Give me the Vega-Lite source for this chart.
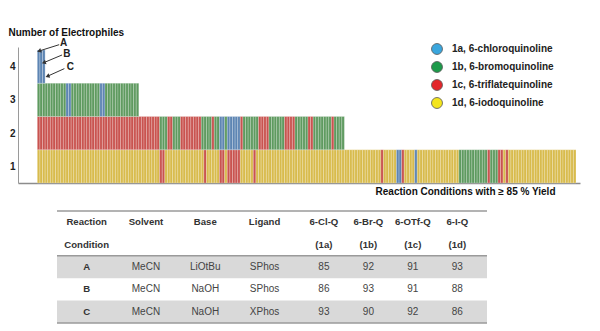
{
  "$schema": "https://vega.github.io/schema/vega-lite/v6.json",
  "padding": {"left": 8, "top": 27, "right": 5, "bottom": 4},
  "spacing": 14,
  "config": {
    "view": {"stroke": null},
    "font": "Liberation Sans"
  },
  "datasets": {
    "stripes": [
      {"cond":0,"level":1,"eph":"1d"},{"cond":1,"level":1,"eph":"1d"},{"cond":2,"level":1,"eph":"1d"},{"cond":3,"level":1,"eph":"1d"},{"cond":4,"level":1,"eph":"1d"},{"cond":5,"level":1,"eph":"1d"},{"cond":6,"level":1,"eph":"1d"},{"cond":7,"level":1,"eph":"1d"},{"cond":8,"level":1,"eph":"1d"},{"cond":9,"level":1,"eph":"1d"},
      {"cond":10,"level":1,"eph":"1d"},{"cond":11,"level":1,"eph":"1d"},{"cond":12,"level":1,"eph":"1d"},{"cond":13,"level":1,"eph":"1d"},{"cond":14,"level":1,"eph":"1d"},{"cond":15,"level":1,"eph":"1d"},{"cond":16,"level":1,"eph":"1d"},{"cond":17,"level":1,"eph":"1d"},{"cond":18,"level":1,"eph":"1d"},{"cond":19,"level":1,"eph":"1d"},
      {"cond":20,"level":1,"eph":"1d"},{"cond":21,"level":1,"eph":"1d"},{"cond":22,"level":1,"eph":"1d"},{"cond":23,"level":1,"eph":"1d"},{"cond":24,"level":1,"eph":"1d"},{"cond":25,"level":1,"eph":"1d"},{"cond":26,"level":1,"eph":"1d"},{"cond":27,"level":1,"eph":"1d"},{"cond":28,"level":1,"eph":"1d"},{"cond":29,"level":1,"eph":"1d"},
      {"cond":30,"level":1,"eph":"1d"},{"cond":31,"level":1,"eph":"1d"},{"cond":32,"level":1,"eph":"1d"},{"cond":33,"level":1,"eph":"1d"},{"cond":34,"level":1,"eph":"1d"},{"cond":35,"level":1,"eph":"1d"},{"cond":36,"level":1,"eph":"1d"},{"cond":37,"level":1,"eph":"1d"},{"cond":38,"level":1,"eph":"1d"},{"cond":39,"level":1,"eph":"1d"},
      {"cond":40,"level":1,"eph":"1d"},{"cond":41,"level":1,"eph":"1d"},{"cond":42,"level":1,"eph":"1d"},{"cond":43,"level":1,"eph":"1d"},{"cond":44,"level":1,"eph":"1d"},{"cond":45,"level":1,"eph":"1d"},{"cond":46,"level":1,"eph":"1d"},{"cond":47,"level":1,"eph":"1c"},{"cond":48,"level":1,"eph":"1c"},{"cond":49,"level":1,"eph":"1d"},
      {"cond":50,"level":1,"eph":"1d"},{"cond":51,"level":1,"eph":"1d"},{"cond":52,"level":1,"eph":"1d"},{"cond":53,"level":1,"eph":"1d"},{"cond":54,"level":1,"eph":"1d"},{"cond":55,"level":1,"eph":"1d"},{"cond":56,"level":1,"eph":"1d"},{"cond":57,"level":1,"eph":"1d"},{"cond":58,"level":1,"eph":"1d"},{"cond":59,"level":1,"eph":"1d"},
      {"cond":60,"level":1,"eph":"1d"},{"cond":61,"level":1,"eph":"1d"},{"cond":62,"level":1,"eph":"1d"},{"cond":63,"level":1,"eph":"1d"},{"cond":64,"level":1,"eph":"1c"},{"cond":65,"level":1,"eph":"1d"},{"cond":66,"level":1,"eph":"1d"},{"cond":67,"level":1,"eph":"1d"},{"cond":68,"level":1,"eph":"1d"},{"cond":69,"level":1,"eph":"1d"},
      {"cond":70,"level":1,"eph":"1c"},{"cond":71,"level":1,"eph":"1c"},{"cond":72,"level":1,"eph":"1d"},{"cond":73,"level":1,"eph":"1c"},{"cond":74,"level":1,"eph":"1c"},{"cond":75,"level":1,"eph":"1c"},{"cond":76,"level":1,"eph":"1c"},{"cond":77,"level":1,"eph":"1c"},{"cond":78,"level":1,"eph":"1d"},{"cond":79,"level":1,"eph":"1d"},
      {"cond":80,"level":1,"eph":"1d"},{"cond":81,"level":1,"eph":"1d"},{"cond":82,"level":1,"eph":"1d"},{"cond":83,"level":1,"eph":"1c"},{"cond":84,"level":1,"eph":"1d"},{"cond":85,"level":1,"eph":"1d"},{"cond":86,"level":1,"eph":"1d"},{"cond":87,"level":1,"eph":"1d"},{"cond":88,"level":1,"eph":"1d"},{"cond":89,"level":1,"eph":"1d"},
      {"cond":90,"level":1,"eph":"1d"},{"cond":91,"level":1,"eph":"1d"},{"cond":92,"level":1,"eph":"1d"},{"cond":93,"level":1,"eph":"1d"},{"cond":94,"level":1,"eph":"1d"},{"cond":95,"level":1,"eph":"1d"},{"cond":96,"level":1,"eph":"1d"},{"cond":97,"level":1,"eph":"1d"},{"cond":98,"level":1,"eph":"1d"},{"cond":99,"level":1,"eph":"1d"},
      {"cond":100,"level":1,"eph":"1d"},{"cond":101,"level":1,"eph":"1d"},{"cond":102,"level":1,"eph":"1d"},{"cond":103,"level":1,"eph":"1d"},{"cond":104,"level":1,"eph":"1d"},{"cond":105,"level":1,"eph":"1d"},{"cond":106,"level":1,"eph":"1d"},{"cond":107,"level":1,"eph":"1d"},{"cond":108,"level":1,"eph":"1d"},{"cond":109,"level":1,"eph":"1d"},
      {"cond":110,"level":1,"eph":"1d"},{"cond":111,"level":1,"eph":"1d"},{"cond":112,"level":1,"eph":"1d"},{"cond":113,"level":1,"eph":"1d"},{"cond":114,"level":1,"eph":"1d"},{"cond":115,"level":1,"eph":"1d"},{"cond":116,"level":1,"eph":"1d"},{"cond":117,"level":1,"eph":"1d"},{"cond":118,"level":1,"eph":"1d"},{"cond":119,"level":1,"eph":"1d"},
      {"cond":120,"level":1,"eph":"1d"},{"cond":121,"level":1,"eph":"1d"},{"cond":122,"level":1,"eph":"1d"},{"cond":123,"level":1,"eph":"1d"},{"cond":124,"level":1,"eph":"1d"},{"cond":125,"level":1,"eph":"1d"},{"cond":126,"level":1,"eph":"1d"},{"cond":127,"level":1,"eph":"1d"},{"cond":128,"level":1,"eph":"1d"},{"cond":129,"level":1,"eph":"1d"},
      {"cond":130,"level":1,"eph":"1d"},{"cond":131,"level":1,"eph":"1d"},{"cond":132,"level":1,"eph":"1c"},{"cond":133,"level":1,"eph":"1d"},{"cond":134,"level":1,"eph":"1d"},{"cond":135,"level":1,"eph":"1d"},{"cond":136,"level":1,"eph":"1d"},{"cond":137,"level":1,"eph":"1d"},{"cond":138,"level":1,"eph":"1a"},{"cond":139,"level":1,"eph":"1a"},
      {"cond":140,"level":1,"eph":"1c"},{"cond":141,"level":1,"eph":"1d"},{"cond":142,"level":1,"eph":"1d"},{"cond":143,"level":1,"eph":"1d"},{"cond":144,"level":1,"eph":"1d"},{"cond":145,"level":1,"eph":"1a"},{"cond":146,"level":1,"eph":"1d"},{"cond":147,"level":1,"eph":"1d"},{"cond":148,"level":1,"eph":"1d"},{"cond":149,"level":1,"eph":"1d"},
      {"cond":150,"level":1,"eph":"1d"},{"cond":151,"level":1,"eph":"1d"},{"cond":152,"level":1,"eph":"1d"},{"cond":153,"level":1,"eph":"1d"},{"cond":154,"level":1,"eph":"1d"},{"cond":155,"level":1,"eph":"1d"},{"cond":156,"level":1,"eph":"1d"},{"cond":157,"level":1,"eph":"1d"},{"cond":158,"level":1,"eph":"1d"},{"cond":159,"level":1,"eph":"1d"},
      {"cond":160,"level":1,"eph":"1d"},{"cond":161,"level":1,"eph":"1d"},{"cond":162,"level":1,"eph":"1b"},{"cond":163,"level":1,"eph":"1b"},{"cond":164,"level":1,"eph":"1b"},{"cond":165,"level":1,"eph":"1b"},{"cond":166,"level":1,"eph":"1b"},{"cond":167,"level":1,"eph":"1b"},{"cond":168,"level":1,"eph":"1b"},{"cond":169,"level":1,"eph":"1b"},
      {"cond":170,"level":1,"eph":"1b"},{"cond":171,"level":1,"eph":"1b"},{"cond":172,"level":1,"eph":"1b"},{"cond":173,"level":1,"eph":"1c"},{"cond":174,"level":1,"eph":"1b"},{"cond":175,"level":1,"eph":"1b"},{"cond":176,"level":1,"eph":"1b"},{"cond":177,"level":1,"eph":"1c"},{"cond":178,"level":1,"eph":"1c"},{"cond":179,"level":1,"eph":"1d"},
      {"cond":180,"level":1,"eph":"1c"},{"cond":181,"level":1,"eph":"1d"},{"cond":182,"level":1,"eph":"1d"},{"cond":183,"level":1,"eph":"1d"},{"cond":184,"level":1,"eph":"1d"},{"cond":185,"level":1,"eph":"1d"},{"cond":186,"level":1,"eph":"1d"},{"cond":187,"level":1,"eph":"1d"},{"cond":188,"level":1,"eph":"1d"},{"cond":189,"level":1,"eph":"1d"},
      {"cond":190,"level":1,"eph":"1d"},{"cond":191,"level":1,"eph":"1d"},{"cond":192,"level":1,"eph":"1d"},{"cond":193,"level":1,"eph":"1d"},{"cond":194,"level":1,"eph":"1d"},{"cond":195,"level":1,"eph":"1d"},{"cond":196,"level":1,"eph":"1d"},{"cond":197,"level":1,"eph":"1d"},{"cond":198,"level":1,"eph":"1d"},{"cond":199,"level":1,"eph":"1d"},
      {"cond":200,"level":1,"eph":"1d"},{"cond":201,"level":1,"eph":"1d"},{"cond":202,"level":1,"eph":"1d"},{"cond":203,"level":1,"eph":"1d"},{"cond":204,"level":1,"eph":"1d"},{"cond":205,"level":1,"eph":"1d"},{"cond":206,"level":1,"eph":"1d"},
      {"cond":0,"level":2,"eph":"1c"},{"cond":1,"level":2,"eph":"1c"},{"cond":2,"level":2,"eph":"1c"},{"cond":3,"level":2,"eph":"1c"},{"cond":4,"level":2,"eph":"1c"},{"cond":5,"level":2,"eph":"1c"},{"cond":6,"level":2,"eph":"1c"},{"cond":7,"level":2,"eph":"1c"},{"cond":8,"level":2,"eph":"1c"},{"cond":9,"level":2,"eph":"1c"},
      {"cond":10,"level":2,"eph":"1c"},{"cond":11,"level":2,"eph":"1c"},{"cond":12,"level":2,"eph":"1c"},{"cond":13,"level":2,"eph":"1c"},{"cond":14,"level":2,"eph":"1c"},{"cond":15,"level":2,"eph":"1c"},{"cond":16,"level":2,"eph":"1c"},{"cond":17,"level":2,"eph":"1c"},{"cond":18,"level":2,"eph":"1c"},{"cond":19,"level":2,"eph":"1c"},
      {"cond":20,"level":2,"eph":"1c"},{"cond":21,"level":2,"eph":"1c"},{"cond":22,"level":2,"eph":"1c"},{"cond":23,"level":2,"eph":"1c"},{"cond":24,"level":2,"eph":"1c"},{"cond":25,"level":2,"eph":"1c"},{"cond":26,"level":2,"eph":"1c"},{"cond":27,"level":2,"eph":"1c"},{"cond":28,"level":2,"eph":"1c"},{"cond":29,"level":2,"eph":"1c"},
      {"cond":30,"level":2,"eph":"1c"},{"cond":31,"level":2,"eph":"1c"},{"cond":32,"level":2,"eph":"1c"},{"cond":33,"level":2,"eph":"1c"},{"cond":34,"level":2,"eph":"1c"},{"cond":35,"level":2,"eph":"1c"},{"cond":36,"level":2,"eph":"1c"},{"cond":37,"level":2,"eph":"1c"},{"cond":38,"level":2,"eph":"1c"},{"cond":39,"level":2,"eph":"1c"},
      {"cond":40,"level":2,"eph":"1c"},{"cond":41,"level":2,"eph":"1c"},{"cond":42,"level":2,"eph":"1c"},{"cond":43,"level":2,"eph":"1c"},{"cond":44,"level":2,"eph":"1c"},{"cond":45,"level":2,"eph":"1c"},{"cond":46,"level":2,"eph":"1c"},{"cond":47,"level":2,"eph":"1b"},{"cond":48,"level":2,"eph":"1b"},{"cond":49,"level":2,"eph":"1b"},
      {"cond":50,"level":2,"eph":"1c"},{"cond":51,"level":2,"eph":"1c"},{"cond":52,"level":2,"eph":"1b"},{"cond":53,"level":2,"eph":"1b"},{"cond":54,"level":2,"eph":"1b"},{"cond":55,"level":2,"eph":"1c"},{"cond":56,"level":2,"eph":"1c"},{"cond":57,"level":2,"eph":"1c"},{"cond":58,"level":2,"eph":"1c"},{"cond":59,"level":2,"eph":"1c"},
      {"cond":60,"level":2,"eph":"1c"},{"cond":61,"level":2,"eph":"1c"},{"cond":62,"level":2,"eph":"1c"},{"cond":63,"level":2,"eph":"1b"},{"cond":64,"level":2,"eph":"1b"},{"cond":65,"level":2,"eph":"1b"},{"cond":66,"level":2,"eph":"1b"},{"cond":67,"level":2,"eph":"1c"},{"cond":68,"level":2,"eph":"1b"},{"cond":69,"level":2,"eph":"1b"},
      {"cond":70,"level":2,"eph":"1a"},{"cond":71,"level":2,"eph":"1a"},{"cond":72,"level":2,"eph":"1b"},{"cond":73,"level":2,"eph":"1a"},{"cond":74,"level":2,"eph":"1a"},{"cond":75,"level":2,"eph":"1a"},{"cond":76,"level":2,"eph":"1a"},{"cond":77,"level":2,"eph":"1a"},{"cond":78,"level":2,"eph":"1c"},{"cond":79,"level":2,"eph":"1b"},
      {"cond":80,"level":2,"eph":"1b"},{"cond":81,"level":2,"eph":"1b"},{"cond":82,"level":2,"eph":"1b"},{"cond":83,"level":2,"eph":"1b"},{"cond":84,"level":2,"eph":"1b"},{"cond":85,"level":2,"eph":"1c"},{"cond":86,"level":2,"eph":"1c"},{"cond":87,"level":2,"eph":"1c"},{"cond":88,"level":2,"eph":"1c"},{"cond":89,"level":2,"eph":"1b"},
      {"cond":90,"level":2,"eph":"1b"},{"cond":91,"level":2,"eph":"1b"},{"cond":92,"level":2,"eph":"1b"},{"cond":93,"level":2,"eph":"1b"},{"cond":94,"level":2,"eph":"1b"},{"cond":95,"level":2,"eph":"1c"},{"cond":96,"level":2,"eph":"1c"},{"cond":97,"level":2,"eph":"1c"},{"cond":98,"level":2,"eph":"1c"},{"cond":99,"level":2,"eph":"1b"},
      {"cond":100,"level":2,"eph":"1b"},{"cond":101,"level":2,"eph":"1b"},{"cond":102,"level":2,"eph":"1b"},{"cond":103,"level":2,"eph":"1b"},{"cond":104,"level":2,"eph":"1c"},{"cond":105,"level":2,"eph":"1c"},{"cond":106,"level":2,"eph":"1b"},{"cond":107,"level":2,"eph":"1b"},{"cond":108,"level":2,"eph":"1b"},{"cond":109,"level":2,"eph":"1b"},
      {"cond":110,"level":2,"eph":"1b"},{"cond":111,"level":2,"eph":"1b"},{"cond":112,"level":2,"eph":"1b"},{"cond":113,"level":2,"eph":"1c"},{"cond":114,"level":2,"eph":"1b"},{"cond":115,"level":2,"eph":"1b"},{"cond":116,"level":2,"eph":"1b"},{"cond":117,"level":2,"eph":"1b"},
      {"cond":0,"level":3,"eph":"1b"},{"cond":1,"level":3,"eph":"1b"},{"cond":2,"level":3,"eph":"1b"},{"cond":3,"level":3,"eph":"1b"},{"cond":4,"level":3,"eph":"1b"},{"cond":5,"level":3,"eph":"1b"},{"cond":6,"level":3,"eph":"1b"},{"cond":7,"level":3,"eph":"1b"},{"cond":8,"level":3,"eph":"1b"},{"cond":9,"level":3,"eph":"1b"},
      {"cond":10,"level":3,"eph":"1b"},{"cond":11,"level":3,"eph":"1a"},{"cond":12,"level":3,"eph":"1a"},{"cond":13,"level":3,"eph":"1b"},{"cond":14,"level":3,"eph":"1b"},{"cond":15,"level":3,"eph":"1b"},{"cond":16,"level":3,"eph":"1b"},{"cond":17,"level":3,"eph":"1b"},{"cond":18,"level":3,"eph":"1b"},{"cond":19,"level":3,"eph":"1b"},
      {"cond":20,"level":3,"eph":"1b"},{"cond":21,"level":3,"eph":"1b"},{"cond":22,"level":3,"eph":"1b"},{"cond":23,"level":3,"eph":"1b"},{"cond":24,"level":3,"eph":"1a"},{"cond":25,"level":3,"eph":"1a"},{"cond":26,"level":3,"eph":"1b"},{"cond":27,"level":3,"eph":"1b"},{"cond":28,"level":3,"eph":"1b"},{"cond":29,"level":3,"eph":"1b"},
      {"cond":30,"level":3,"eph":"1b"},{"cond":31,"level":3,"eph":"1b"},{"cond":32,"level":3,"eph":"1b"},{"cond":33,"level":3,"eph":"1b"},{"cond":34,"level":3,"eph":"1b"},{"cond":35,"level":3,"eph":"1b"},{"cond":36,"level":3,"eph":"1b"},{"cond":37,"level":3,"eph":"1b"},{"cond":38,"level":3,"eph":"1b"},
      {"cond":0,"level":4,"eph":"1a"},{"cond":1,"level":4,"eph":"1a"},{"cond":2,"level":4,"eph":"1a"}
    ],
    "electrophiles": [
      {"name": "1a, 6-chloroquinoline"},
      {"name": "1b, 6-bromoquinoline"},
      {"name": "1c, 6-triflatequinoline"},
      {"name": "1d, 6-iodoquinoline"}
    ],
    "notes": [
      {"label": "A", "labelCond": 9.6, "labelLevel": 4.705, "fromCond": 7.9, "fromLevel": 4.66, "toCond": 0.2, "toLevel": 4.47},
      {"label": "B", "labelCond": 10.9, "labelLevel": 4.37, "fromCond": 9.0, "fromLevel": 4.35, "toCond": 2.0, "toLevel": 4.12},
      {"label": "C", "labelCond": 12.2, "labelLevel": 3.99, "fromCond": 9.9, "fromLevel": 3.94, "toCond": 3.4, "toLevel": 3.71}
    ],
    "table": [
      {"row": "h1", "col": "Reaction", "text": "Reaction"},
      {"row": "h1", "col": "Solvent", "text": "Solvent"},
      {"row": "h1", "col": "Base", "text": "Base"},
      {"row": "h1", "col": "Ligand", "text": "Ligand"},
      {"row": "h1", "col": "6-Cl-Q", "text": "6-Cl-Q"},
      {"row": "h1", "col": "6-Br-Q", "text": "6-Br-Q"},
      {"row": "h1", "col": "6-OTf-Q", "text": "6-OTf-Q"},
      {"row": "h1", "col": "6-I-Q", "text": "6-I-Q"},
      {"row": "h2", "col": "Reaction", "text": "Condition"},
      {"row": "h2", "col": "6-Cl-Q", "text": "(1a)"},
      {"row": "h2", "col": "6-Br-Q", "text": "(1b)"},
      {"row": "h2", "col": "6-OTf-Q", "text": "(1c)"},
      {"row": "h2", "col": "6-I-Q", "text": "(1d)"},
      {"row": "A", "col": "Reaction", "text": "A"},
      {"row": "A", "col": "Solvent", "text": "MeCN"},
      {"row": "A", "col": "Base", "text": "LiOtBu"},
      {"row": "A", "col": "Ligand", "text": "SPhos"},
      {"row": "A", "col": "6-Cl-Q", "text": "85"},
      {"row": "A", "col": "6-Br-Q", "text": "92"},
      {"row": "A", "col": "6-OTf-Q", "text": "91"},
      {"row": "A", "col": "6-I-Q", "text": "93"},
      {"row": "B", "col": "Reaction", "text": "B"},
      {"row": "B", "col": "Solvent", "text": "MeCN"},
      {"row": "B", "col": "Base", "text": "NaOH"},
      {"row": "B", "col": "Ligand", "text": "SPhos"},
      {"row": "B", "col": "6-Cl-Q", "text": "86"},
      {"row": "B", "col": "6-Br-Q", "text": "93"},
      {"row": "B", "col": "6-OTf-Q", "text": "91"},
      {"row": "B", "col": "6-I-Q", "text": "88"},
      {"row": "C", "col": "Reaction", "text": "C"},
      {"row": "C", "col": "Solvent", "text": "MeCN"},
      {"row": "C", "col": "Base", "text": "NaOH"},
      {"row": "C", "col": "Ligand", "text": "XPhos"},
      {"row": "C", "col": "6-Cl-Q", "text": "93"},
      {"row": "C", "col": "6-Br-Q", "text": "90"},
      {"row": "C", "col": "6-OTf-Q", "text": "92"},
      {"row": "C", "col": "6-I-Q", "text": "86"}
    ]
  },
  "vconcat": [
    {
      "width": 562,
      "height": 136,
      "layer": [
        {
          "data": {"name": "stripes"},
          "mark": {"type": "tick", "orient": "vertical", "thickness": 2.6, "size": 33.25, "stroke": "#ffffff", "strokeWidth": 0.5, "strokeOpacity": 0.45, "opacity": 1},
          "encoding": {
            "x": {
              "field": "cond", "type": "quantitative",
              "scale": {"domain": [-7.92, 208.04], "nice": false, "zero": false},
              "axis": {
                "title": "Reaction Conditions with ≥ 85 % Yield",
                "labels": false, "ticks": false, "grid": false,
                "domainColor": "#8c8c8c", "domainWidth": 1.3,
                "titleFont": "Liberation Sans", "titleFontSize": 10, "titleFontWeight": "bold", "titleColor": "#111111",
                "titleX": 537, "titleY": 8, "titleAlign": "right", "titleBaseline": "middle"
              }
            },
            "y": {
              "field": "level", "type": "quantitative",
              "scale": {"domain": [0.5, 4.59], "nice": false, "zero": false},
              "axis": {
                "title": "Number of Electrophiles",
                "values": [1, 2, 3, 4], "format": "d",
                "ticks": false, "grid": false, "labelPadding": 3,
                "labelFont": "Liberation Sans", "labelFontSize": 10, "labelFontWeight": "bold", "labelColor": "#222222",
                "domainColor": "#9a9a9a", "domainWidth": 1,
                "titleFont": "Liberation Sans", "titleFontSize": 10, "titleFontWeight": "bold", "titleColor": "#111111",
                "titleAngle": 0, "titleAlign": "left", "titleBaseline": "middle", "titleX": -10, "titleY": -15
              }
            },
            "fill": {
              "field": "eph", "type": "nominal",
              "scale": {"domain": ["1a", "1b", "1c", "1d"], "range": ["#5d85b3", "#5e9a5f", "#c9534f", "#d8bb4c"]},
              "legend": null
            }
          }
        },
        {
          "data": {"name": "electrophiles"},
          "mark": {"type": "point", "filled": true, "opacity": 0},
          "encoding": {
            "x": {"datum": 100},
            "y": {"datum": 1},
            "color": {
              "field": "name", "type": "nominal",
              "scale": {
                "domain": ["1a, 6-chloroquinoline", "1b, 6-bromoquinoline", "1c, 6-triflatequinoline", "1d, 6-iodoquinoline"],
                "range": ["#3aa6dd", "#1d9a4a", "#e3262b", "#f4e51c"]
              },
              "legend": {
                "title": null, "orient": "none", "legendX": 413, "legendY": -4,
                "symbolType": "circle", "symbolSize": 120, "symbolOpacity": 1,
                "symbolStrokeColor": "#555555", "symbolStrokeWidth": 0.8,
                "labelFont": "Liberation Sans", "labelFontSize": 10, "labelFontWeight": "bold", "labelColor": "#222222",
                "labelOffset": 9, "rowPadding": 2
              }
            }
          }
        },
        {
          "data": {"name": "notes"},
          "mark": {"type": "rule", "color": "#333333", "strokeWidth": 1},
          "encoding": {
            "x": {"field": "fromCond", "type": "quantitative"},
            "y": {"field": "fromLevel", "type": "quantitative"},
            "x2": {"field": "toCond"},
            "y2": {"field": "toLevel"}
          }
        },
        {
          "data": {"name": "notes"},
          "mark": {"type": "point", "shape": "triangle-left", "filled": true, "size": 22, "angle": -20, "color": "#333333", "opacity": 1},
          "encoding": {
            "x": {"field": "toCond", "type": "quantitative"},
            "y": {"field": "toLevel", "type": "quantitative"}
          }
        },
        {
          "data": {"name": "notes"},
          "mark": {"type": "text", "font": "Liberation Sans", "fontSize": 10, "fontWeight": "bold", "color": "#222222"},
          "encoding": {
            "x": {"field": "labelCond", "type": "quantitative"},
            "y": {"field": "labelLevel", "type": "quantitative"},
            "text": {"field": "label"}
          }
        }
      ]
    },
    {
      "spacing": 0,
      "hconcat": [
        {
          "width": 38,
          "height": 112,
          "data": {"values": []},
          "mark": {"type": "point"}
        },
        {
          "width": 430,
          "height": 112,
          "data": {"name": "table"},
          "layer": [
            {
              "transform": [{"filter": "datum.col == 'Reaction' && (datum.row == 'A' || datum.row == 'C')"}],
              "mark": {"type": "rect", "color": "#d9d9d9"},
              "encoding": {
                "y": {
                  "field": "row", "type": "ordinal",
                  "scale": {"type": "band", "domain": ["h1", "h2", "A", "B", "C"], "paddingInner": 0, "paddingOuter": 0},
                  "axis": null
                }
              }
            },
            {
              "transform": [{"filter": "datum.col == 'Reaction' && (datum.row == 'h1' || datum.row == 'A')"}],
              "mark": {"type": "rule", "color": "#9a9a9a", "strokeWidth": 1.5},
              "encoding": {
                "y": {"field": "row", "type": "ordinal", "bandPosition": 0}
              }
            },
            {
              "transform": [{"filter": "datum.col == 'Reaction' && datum.row == 'C'"}],
              "mark": {"type": "rule", "color": "#9a9a9a", "strokeWidth": 1.5},
              "encoding": {
                "y": {"field": "row", "type": "ordinal", "bandPosition": 1}
              }
            },
            {
              "transform": [{"filter": "datum.row == 'h1' || datum.row == 'h2' || datum.col == 'Reaction'"}],
              "mark": {"type": "text", "font": "Liberation Sans", "fontSize": 9.6, "fontWeight": "bold", "color": "#333333"},
              "encoding": {
                "x": {
                  "field": "col", "type": "ordinal",
                  "scale": {
                    "type": "point", "padding": 0,
                    "domain": ["ls", "s1", "Reaction", "s3", "s4", "s5", "Solvent", "s7", "s8", "s9", "Base", "s11", "s12", "s13", "Ligand", "s15", "s16", "s17", "6-Cl-Q", "s19", "s20", "6-Br-Q", "s22", "s23", "6-OTf-Q", "s25", "s26", "6-I-Q", "s28", "le"]
                  },
                  "axis": null
                },
                "y": {"field": "row", "type": "ordinal"},
                "text": {"field": "text"}
              }
            },
            {
              "transform": [{"filter": "datum.row != 'h1' && datum.row != 'h2' && datum.col != 'Reaction'"}],
              "mark": {"type": "text", "font": "Liberation Sans", "fontSize": 10, "color": "#444444"},
              "encoding": {
                "x": {"field": "col", "type": "ordinal"},
                "y": {"field": "row", "type": "ordinal"},
                "text": {"field": "text"}
              }
            }
          ]
        }
      ]
    }
  ]
}
